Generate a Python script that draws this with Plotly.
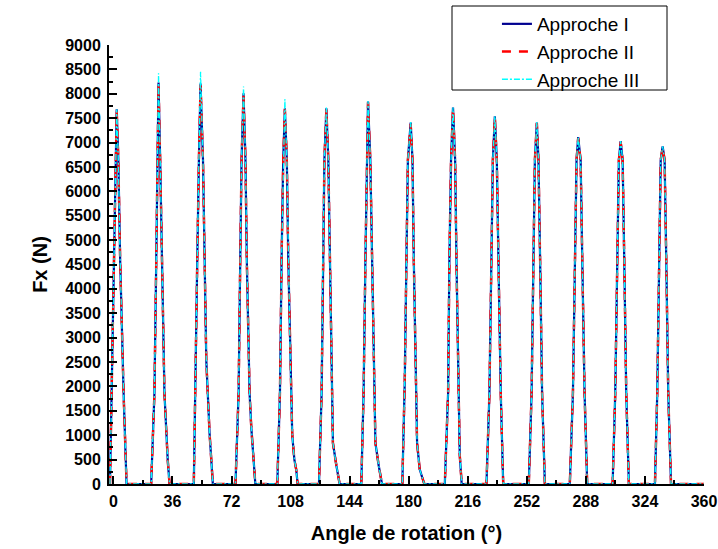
import plotly.graph_objects as go

# Angle de rotation (degrees) -- shared sampling for all three approaches
angle = [
    -2.1, -1.0, 0.6, 1.6, 2.0, 3.0, 4.1, 6.2, 7.2, 8.0,
    23.0, 25.0, 26.1, 26.7, 27.5, 28.5, 29.5, 31.1, 33.1, 34.2,
    49.0, 50.0, 51.1, 52.1, 53.1, 54.6, 55.5, 56.6, 58.6, 60.0, 60.6,
    74.4, 76.3, 77.3, 78.1, 79.3, 80.5, 81.3, 83.0, 84.0, 85.4, 86.5,
    99.9, 101.5, 102.5, 103.5, 104.5, 105.7, 106.6, 107.8, 109.0, 110.3, 111.4, 112.3,
    125.3, 126.9, 127.7, 128.6, 129.8, 131.0, 132.0, 132.8, 133.8, 135.9, 137.9,
    151.1, 152.5, 153.6, 154.4, 155.2, 156.6, 157.6, 158.6, 159.7, 161.7, 163.7,
    176.1, 177.6, 178.6, 179.5, 181.2, 182.3, 183.1, 184.1, 185.1, 186.7, 189.5,
    202.0, 204.0, 204.8, 205.8, 207.0, 208.3, 209.1, 210.3, 211.1, 212.3,
    227.4, 229.2, 230.2, 231.3, 232.5, 233.7, 234.7, 236.1, 237.6,
    253.2, 254.9, 255.8, 256.9, 258.1, 259.1, 260.1, 261.3, 263.0,
    278.2, 280.1, 281.1, 282.3, 283.3, 284.8, 285.8, 287.2, 288.8,
    304.3, 305.9, 306.9, 308.1, 309.2, 310.4, 311.4, 312.6, 314.2,
    330.1, 331.5, 332.6, 333.6, 334.8, 336.0, 337.0, 338.2, 339.9,
    360.0,
]

# Fx (N) -- Approche I
fx_approche_1 = [
    0, 1860, 4590, 6640, 7680, 6640, 4590, 1860, 800, 0,
    0, 1860, 4590, 6640, 8230, 6640, 4590, 1860, 490, 0,
    0, 1860, 4590, 6640, 8210, 6640, 4590, 2540, 1040, 400, 0,
    0, 1860, 4590, 6640, 8010, 6640, 4590, 1860, 1175, 490, 0,
    0, 1860, 4590, 6640, 7700, 6640, 4590, 2540, 1000, 500, 300, 0,
    0, 1860, 4590, 6640, 7700, 6640, 4590, 2540, 840, 380, 0,
    0, 1860, 4590, 6640, 7840, 6640, 4590, 2540, 840, 380, 0,
    0, 2130, 4590, 6640, 7410, 6640, 4590, 2540, 840, 300, 0,
    0, 1860, 4590, 6640, 7720, 6640, 4590, 1860, 600, 0,
    0, 1860, 4590, 6640, 7540, 6640, 4590, 1860, 0,
    0, 1860, 4590, 6640, 7410, 6640, 4590, 1860, 0,
    0, 1860, 4590, 6640, 7110, 6640, 4590, 1860, 0,
    0, 1860, 4590, 6640, 7030, 6640, 4590, 1860, 0,
    0, 1860, 4590, 6640, 6920, 6640, 4590, 1860, 0,
    0,
]

# Fx (N) -- Approche II
fx_approche_2 = [
    0, 1860, 4590, 6640, 7650, 6640, 4590, 1860, 800, 0,
    0, 1860, 4590, 6640, 8200, 6640, 4590, 1860, 490, 0,
    0, 1860, 4590, 6640, 8180, 6640, 4590, 2540, 1040, 400, 0,
    0, 1860, 4590, 6640, 7960, 6640, 4590, 1860, 1175, 490, 0,
    0, 1860, 4590, 6640, 7680, 6640, 4590, 2540, 1000, 500, 300, 0,
    0, 1860, 4590, 6640, 7680, 6640, 4590, 2540, 840, 380, 0,
    0, 1860, 4590, 6640, 7820, 6640, 4590, 2540, 840, 380, 0,
    0, 2130, 4590, 6640, 7380, 6640, 4590, 2540, 840, 300, 0,
    0, 1860, 4590, 6640, 7700, 6640, 4590, 1860, 600, 0,
    0, 1860, 4590, 6640, 7520, 6640, 4590, 1860, 0,
    0, 1860, 4590, 6640, 7400, 6640, 4590, 1860, 0,
    0, 1860, 4590, 6640, 7090, 6640, 4590, 1860, 0,
    0, 1860, 4590, 6640, 7010, 6640, 4590, 1860, 0,
    0, 1860, 4590, 6640, 6900, 6640, 4590, 1860, 0,
    0,
]

# Fx (N) -- Approche III
fx_approche_3 = [
    0, 1860, 4590, 6640, 7680, 6640, 4590, 1860, 800, 0,
    0, 1860, 4590, 6640, 8420, 6640, 4590, 1860, 490, 0,
    0, 1860, 4590, 6640, 8450, 6640, 4590, 2540, 1040, 400, 0,
    0, 1860, 4590, 6640, 8150, 6640, 4590, 1860, 1175, 490, 0,
    0, 1860, 4590, 6640, 7890, 6640, 4590, 2540, 1000, 500, 300, 0,
    0, 1860, 4590, 6640, 7720, 6640, 4590, 2540, 840, 380, 0,
    0, 1860, 4590, 6640, 7850, 6640, 4590, 2540, 840, 380, 0,
    0, 2130, 4590, 6640, 7420, 6640, 4590, 2540, 840, 300, 0,
    0, 1860, 4590, 6640, 7720, 6640, 4590, 1860, 600, 0,
    0, 1860, 4590, 6640, 7540, 6640, 4590, 1860, 0,
    0, 1860, 4590, 6640, 7420, 6640, 4590, 1860, 0,
    0, 1860, 4590, 6640, 7110, 6640, 4590, 1860, 0,
    0, 1860, 4590, 6640, 7030, 6640, 4590, 1860, 0,
    0, 1860, 4590, 6640, 6920, 6640, 4590, 1860, 0,
    0,
]

series_names = ["Approche I", "Approche II", "Approche III"]

FONT = "Liberation Sans, Arial, sans-serif"

fig = go.Figure()
fig.add_trace(go.Scatter(x=angle, y=fx_approche_1, mode="lines", name=series_names[0],
                         line=dict(color="#000090", width=2.2)))
fig.add_trace(go.Scatter(x=angle, y=fx_approche_2, mode="lines", name=series_names[1],
                         line=dict(color="#ff0000", width=2.4, dash="9px,8px")))
fig.add_trace(go.Scatter(x=angle, y=fx_approche_3, mode="lines", name=series_names[2],
                         line=dict(color="#00ffff", width=1.3, dash="6px,2px,2px,2px")))

tickfont = dict(family=FONT, size=16, color="black", weight="bold")

fig.update_layout(
    width=718, height=549,
    margin=dict(l=109, r=14, t=45, b=65, autoexpand=False),
    paper_bgcolor="white", plot_bgcolor="white",
    showlegend=True,
    legend=dict(x=0.652, y=(484 - 5) / 439, xanchor="left", yanchor="top",
                font=dict(family=FONT, size=19, color="black"),
                bgcolor="rgba(0,0,0,0)", borderwidth=0,
                tracegroupgap=0, itemwidth=30),
    shapes=[dict(type="rect", xref="paper", yref="paper",
                 x0=(452 - 109) / 595, x1=(667 - 109) / 595,
                 y0=(484 - 90) / 439, y1=(484 - 6) / 439,
                 line=dict(color="black", width=1), fillcolor="rgba(0,0,0,0)",
                 layer="above")],
    xaxis=dict(
        range=[-2.7, 360], tick0=0, dtick=36,
        ticks="inside", ticklen=8, tickwidth=2, tickcolor="black",
        minor=dict(ticks="inside", ticklen=4, tickwidth=2, tickcolor="black",
                   tick0=0, dtick=18, showgrid=False),
        showline=True, linewidth=2, linecolor="black",
        showgrid=False, zeroline=False,
        tickfont=tickfont, ticklabelstandoff=2,
        title=dict(text="Angle de rotation (°)", standoff=17,
                   font=dict(family=FONT, size=20, color="black", weight="bold")),
    ),
    yaxis=dict(
        range=[0, 9000], tick0=0, dtick=500,
        ticks="inside", ticklen=8, tickwidth=2, tickcolor="black",
        minor=dict(ticks="inside", ticklen=4, tickwidth=2, tickcolor="black",
                   tick0=0, dtick=250, showgrid=False),
        showline=True, linewidth=2, linecolor="black",
        showgrid=False, zeroline=False,
        tickfont=tickfont, ticklabelstandoff=3,
        title=dict(text="Fx (N)", standoff=12,
                   font=dict(family=FONT, size=20, color="black", weight="bold")),
    ),
)

fig.write_html("out.html",
               config={"displayModeBar": False},
               post_script="document.body.style.margin='0';document.body.style.overflow='hidden';")
